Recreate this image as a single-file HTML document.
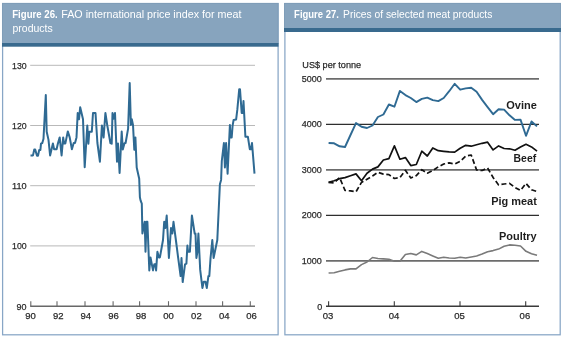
<!DOCTYPE html>
<html><head><meta charset="utf-8">
<style>
html,body{margin:0;padding:0;background:#fff;}
body{width:563px;height:340px;overflow:hidden;position:relative;}
svg{position:absolute;left:0;top:0;will-change:transform;}
text{font-family:"Liberation Sans",sans-serif;}
.ax{font-size:9.8px;fill:#2a2a2a;stroke:#2a2a2a;stroke-width:0.25px;}
.lb{font-size:10.4px;font-weight:bold;fill:#1e1e1e;}
.hb{font-size:10.1px;font-weight:bold;fill:#fff;}
.hr{font-size:10.1px;fill:#fff;}
</style></head><body>
<svg width="563" height="340" viewBox="0 0 563 340">
<rect x="2.6" y="3.5" width="275.5" height="331.3" fill="#fff" stroke="#88a6c6" stroke-width="1.25"/>
<rect x="2.5" y="3.5" width="275.5" height="40" fill="#87a4be" stroke="#7f9db8" stroke-width="1"/>
<rect x="2" y="43" width="276.5" height="3.7" fill="#396a8e"/>
<rect x="284.9" y="3.5" width="275.3" height="331.3" fill="#fff" stroke="#88a6c6" stroke-width="1.25"/>
<rect x="284.5" y="3.5" width="276" height="25" fill="#87a4be" stroke="#7f9db8" stroke-width="1"/>
<rect x="284" y="28" width="277" height="4" fill="#396a8e"/>
<line x1="30.2" y1="65.3" x2="255" y2="65.3" stroke="#b9b9b9" stroke-width="1"/>
<line x1="30.2" y1="125.5" x2="255" y2="125.5" stroke="#b9b9b9" stroke-width="1"/>
<line x1="30.2" y1="185.7" x2="255" y2="185.7" stroke="#b9b9b9" stroke-width="1"/>
<line x1="30.2" y1="245.9" x2="255" y2="245.9" stroke="#b9b9b9" stroke-width="1"/>
<text x="12.1" y="68.6" class="ax" textLength="14.6" lengthAdjust="spacingAndGlyphs">130</text>
<text x="12.1" y="128.8" class="ax" textLength="14.6" lengthAdjust="spacingAndGlyphs">120</text>
<text x="12.1" y="189.0" class="ax" textLength="14.6" lengthAdjust="spacingAndGlyphs">110</text>
<text x="12.1" y="249.20000000000002" class="ax" textLength="14.6" lengthAdjust="spacingAndGlyphs">100</text>
<text x="16.5" y="309.5" class="ax" textLength="10" lengthAdjust="spacingAndGlyphs">90</text>
<line x1="30.2" y1="306.2" x2="255" y2="306.2" stroke="#686868" stroke-width="1.5"/>
<line x1="30.8" y1="301.2" x2="30.8" y2="306.2" stroke="#686868" stroke-width="1.1"/>
<text x="25.3" y="319.1" class="ax" textLength="10.6" lengthAdjust="spacingAndGlyphs">90</text>
<line x1="57.0" y1="301.2" x2="57.0" y2="306.2" stroke="#686868" stroke-width="1.1"/>
<text x="52.9" y="319.1" class="ax" textLength="10.6" lengthAdjust="spacingAndGlyphs">92</text>
<line x1="85.0" y1="301.2" x2="85.0" y2="306.2" stroke="#686868" stroke-width="1.1"/>
<text x="80.4" y="319.1" class="ax" textLength="10.6" lengthAdjust="spacingAndGlyphs">94</text>
<line x1="113.1" y1="301.2" x2="113.1" y2="306.2" stroke="#686868" stroke-width="1.1"/>
<text x="108.2" y="319.1" class="ax" textLength="10.6" lengthAdjust="spacingAndGlyphs">96</text>
<line x1="139.6" y1="301.2" x2="139.6" y2="306.2" stroke="#686868" stroke-width="1.1"/>
<text x="135.8" y="319.1" class="ax" textLength="10.6" lengthAdjust="spacingAndGlyphs">98</text>
<line x1="168.5" y1="301.2" x2="168.5" y2="306.2" stroke="#686868" stroke-width="1.1"/>
<text x="163.2" y="319.1" class="ax" textLength="10.6" lengthAdjust="spacingAndGlyphs">00</text>
<line x1="196.0" y1="301.2" x2="196.0" y2="306.2" stroke="#686868" stroke-width="1.1"/>
<text x="191.1" y="319.1" class="ax" textLength="10.6" lengthAdjust="spacingAndGlyphs">02</text>
<line x1="222.6" y1="301.2" x2="222.6" y2="306.2" stroke="#686868" stroke-width="1.1"/>
<text x="218.9" y="319.1" class="ax" textLength="10.6" lengthAdjust="spacingAndGlyphs">04</text>
<line x1="250.3" y1="301.2" x2="250.3" y2="306.2" stroke="#686868" stroke-width="1.1"/>
<text x="246.2" y="319.1" class="ax" textLength="10.6" lengthAdjust="spacingAndGlyphs">06</text>
<polyline points="30.5,155.4 33.0,155.4 34.2,149.6 35.2,149.6 37.0,155.8 38.0,155.8 39.2,149.9 40.4,149.9 41.0,143.6 42.3,143.0 43.5,138.7 45.8,95.0 46.7,131.8 48.5,139.9 50.1,155.4 52.9,143.4 54.1,149.2 56.6,149.2 57.9,143.6 59.7,137.4 61.6,155.4 63.2,137.4 64.1,143.6 65.3,143.6 67.8,131.4 69.7,137.4 71.9,149.3 73.7,143.0 75.0,143.0 76.5,137.4 77.7,113.0 79.0,119.3 80.2,107.2 83.0,119.3 84.7,167.3 87.3,125.5 88.4,143.7 89.3,131.7 91.8,131.7 93.0,113.0 95.5,113.0 97.4,143.0 99.9,161.7 101.9,125.5 103.6,137.5 105.4,113.0 107.3,125.5 110.4,143.0 111.7,143.7 112.5,113.0 113.5,118.7 115.0,113.0 117.0,161.7 118.0,143.5 119.6,173.0 121.7,131.5 122.8,149.5 124.5,143.3 125.6,143.0 128.1,128.7 129.7,83.0 130.9,124.9 131.8,119.3 133.0,124.9 134.3,149.8 135.4,137.4 136.7,167.5 139.2,178.7 139.9,197.3 140.6,200.6 141.8,203.7 142.4,233.6 144.7,221.8 145.5,251.8 146.5,221.8 147.4,221.8 149.3,270.4 150.5,257.4 153.0,270.4 154.3,264.2 155.5,264.2 156.1,270.4 157.4,251.8 158.9,257.4 159.9,257.4 163.0,240.0 164.2,221.8 165.4,228.0 166.7,215.5 168.9,258.0 171.0,228.0 172.3,233.6 173.5,221.8 176.2,242.5 178.1,257.4 180.6,276.0 181.5,258.0 182.7,282.0 185.0,264.3 186.4,263.6 187.4,245.6 188.1,251.8 189.9,251.8 191.9,215.5 194.7,233.6 195.5,233.6 196.4,258.0 197.4,251.8 198.4,233.6 200.2,269.9 202.4,288.0 203.7,281.7 205.5,281.7 206.8,288.0 208.4,276.1 209.3,276.1 210.5,258.7 212.3,240.0 213.6,258.0 217.3,240.0 219.9,184.3 221.1,179.9 221.8,161.0 223.9,143.0 224.9,167.5 226.1,143.0 227.6,173.7 229.9,125.0 230.5,137.4 231.7,137.4 232.6,125.6 233.6,120.0 236.1,119.6 237.3,109.9 239.2,89.3 240.0,89.3 241.7,113.0 242.7,113.0 243.5,101.1 245.4,136.8 247.9,136.8 249.8,149.2 251.0,149.2 252.0,143.0 254.5,173.7" fill="none" stroke="#2f6a93" stroke-width="2" stroke-linejoin="round"/>

<line x1="326" y1="78.9" x2="539" y2="78.9" stroke="#6c6c6c" stroke-width="1.8"/>
<text x="301.8" y="81.7" class="ax" textLength="20" lengthAdjust="spacingAndGlyphs">5000</text>
<line x1="326" y1="124.4" x2="539" y2="124.4" stroke="#2e2e2e" stroke-width="1.3"/>
<text x="301.8" y="127.2" class="ax" textLength="20" lengthAdjust="spacingAndGlyphs">4000</text>
<line x1="326" y1="169.9" x2="539" y2="169.9" stroke="#6c6c6c" stroke-width="1.8"/>
<text x="301.8" y="172.70000000000002" class="ax" textLength="20" lengthAdjust="spacingAndGlyphs">3000</text>
<line x1="326" y1="215.4" x2="539" y2="215.4" stroke="#2e2e2e" stroke-width="1.3"/>
<text x="301.8" y="218.20000000000002" class="ax" textLength="20" lengthAdjust="spacingAndGlyphs">2000</text>
<line x1="326" y1="260.9" x2="539" y2="260.9" stroke="#6c6c6c" stroke-width="1.8"/>
<text x="301.8" y="263.7" class="ax" textLength="20" lengthAdjust="spacingAndGlyphs">1000</text>
<text x="317.2" y="309.6" class="ax" textLength="5" lengthAdjust="spacingAndGlyphs">0</text>
<line x1="326" y1="306.3" x2="539" y2="306.3" stroke="#3a3a3a" stroke-width="1.4"/>
<line x1="328.6" y1="301.3" x2="328.6" y2="306.3" stroke="#3a3a3a" stroke-width="1.1"/>
<text x="322.7" y="318.8" class="ax" textLength="10.6" lengthAdjust="spacingAndGlyphs">03</text>
<line x1="394.3" y1="301.3" x2="394.3" y2="306.3" stroke="#3a3a3a" stroke-width="1.1"/>
<text x="388.7" y="318.8" class="ax" textLength="10.6" lengthAdjust="spacingAndGlyphs">04</text>
<line x1="460" y1="301.3" x2="460" y2="306.3" stroke="#3a3a3a" stroke-width="1.1"/>
<text x="454.2" y="318.8" class="ax" textLength="10.6" lengthAdjust="spacingAndGlyphs">05</text>
<line x1="525.7" y1="301.3" x2="525.7" y2="306.3" stroke="#3a3a3a" stroke-width="1.1"/>
<text x="519.6" y="318.8" class="ax" textLength="10.6" lengthAdjust="spacingAndGlyphs">06</text>
<polyline points="328.6,273.0 334.1,272.7 339.6,271.3 345.0,269.9 350.5,268.9 356.0,268.9 361.5,264.6 367.0,262.0 372.5,257.5 377.9,258.5 383.4,258.9 388.9,259.2 394.4,261.3 399.9,261.3 405.4,254.5 410.8,253.5 416.3,254.9 421.8,251.4 427.3,253.5 432.8,255.9 438.3,258.2 443.7,257.3 449.2,258.0 454.7,258.2 460.2,257.3 465.7,258.0 471.2,257.0 476.6,256.0 482.1,254.1 487.6,251.7 493.1,250.6 498.6,249.1 504.1,246.3 509.5,244.9 515.0,245.2 520.5,246.0 526.0,251.3 531.5,253.8 537.0,255.3" fill="none" stroke="#7a7a7a" stroke-width="1.6" stroke-linejoin="round"/>
<polyline points="328.6,182.4 334.1,182.9 339.6,177.6 345.0,190.4 350.5,190.9 356.0,191.8 361.5,182.4 367.0,179.2 372.5,176.0 377.9,172.3 383.4,174.1 388.9,174.6 394.4,178.5 399.9,177.5 405.4,170.3 410.8,178.0 416.3,175.6 421.8,169.7 427.3,173.2 432.8,170.5 438.3,166.8 443.7,164.0 449.2,162.9 454.7,164.0 460.2,161.4 465.7,156.1 471.2,155.0 476.6,170.0 482.1,170.5 487.6,168.0 493.1,177.5 498.6,184.9 504.1,184.0 509.5,183.4 515.0,187.5 520.5,190.5 526.0,183.4 531.5,189.8 537.0,191.5" fill="none" stroke="#111" stroke-width="1.7" stroke-dasharray="5 2.7" stroke-linejoin="round"/>
<polyline points="328.6,182.4 334.1,180.8 339.6,178.7 345.0,177.6 350.5,175.7 356.0,173.9 361.5,180.8 367.0,173.3 372.5,169.1 377.9,166.9 383.4,160.0 388.9,158.7 394.4,145.9 399.9,159.2 405.4,157.6 410.8,165.6 416.3,164.5 421.8,151.2 427.3,156.0 432.8,148.0 438.3,150.7 443.7,151.3 449.2,151.8 454.7,152.1 460.2,148.3 465.7,145.3 471.2,146.2 476.6,144.8 482.1,143.3 487.6,142.2 493.1,149.9 498.6,145.9 504.1,148.5 509.5,148.8 515.0,150.3 520.5,147.1 526.0,144.3 531.5,146.9 537.0,151.2" fill="none" stroke="#111" stroke-width="1.7" stroke-linejoin="round"/>
<polyline points="328.6,143.0 334.1,143.3 339.6,146.3 345.0,147.0 350.5,135.0 356.0,123.1 361.5,126.8 367.0,128.0 372.5,125.5 377.9,117.0 383.4,114.5 388.9,104.5 394.4,106.7 399.9,90.9 405.4,95.1 410.8,98.0 416.3,102.1 421.8,98.9 427.3,97.6 432.8,100.1 438.3,101.1 443.7,98.0 449.2,91.2 454.7,83.8 460.2,89.7 465.7,88.4 471.2,87.7 476.6,91.8 482.1,99.9 487.6,107.1 493.1,114.2 498.6,109.2 504.1,109.6 509.5,115.3 515.0,119.9 520.5,119.6 526.0,135.8 531.5,121.5 537.0,126.4" fill="none" stroke="#2f6a93" stroke-width="1.9" stroke-linejoin="round"/>
<text x="302.3" y="68.2" class="ax" textLength="58.8" lengthAdjust="spacingAndGlyphs">US$ per tonne</text>
<text x="506.2" y="109.3" class="lb" textLength="30.6" lengthAdjust="spacingAndGlyphs">Ovine</text>
<text x="513.6" y="162.2" class="lb" textLength="22.6" lengthAdjust="spacingAndGlyphs">Beef</text>
<text x="491.2" y="205.2" class="lb" textLength="45.6" lengthAdjust="spacingAndGlyphs">Pig meat</text>
<text x="499.0" y="239.8" class="lb" textLength="37.7" lengthAdjust="spacingAndGlyphs">Poultry</text>

<text x="12.2" y="17.9" class="hb" textLength="45.6" lengthAdjust="spacingAndGlyphs">Figure 26.</text>
<text x="61.2" y="17.9" class="hr" textLength="180.2" lengthAdjust="spacingAndGlyphs">FAO international price index for meat</text>
<text x="12.5" y="32.1" class="hr" textLength="40.2" lengthAdjust="spacingAndGlyphs">products</text>
<text x="294.1" y="17.9" class="hb" textLength="44.8" lengthAdjust="spacingAndGlyphs">Figure 27.</text>
<text x="343.1" y="17.9" class="hr" textLength="149.2" lengthAdjust="spacingAndGlyphs">Prices of selected meat products</text>

</svg>
</body></html>
